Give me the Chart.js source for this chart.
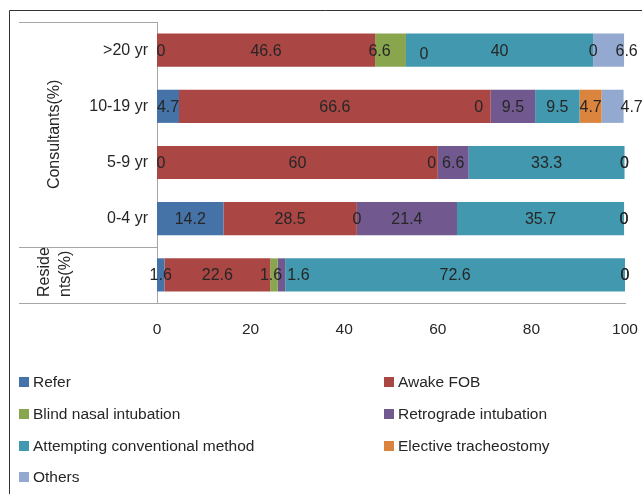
<!DOCTYPE html>
<html>
<head>
<meta charset="utf-8">
<script src="https://cdn.jsdelivr.net/npm/chart.js@4.4.1/dist/chart.umd.min.js"></script>
<style>
  html, body { margin: 0; padding: 0; background: #fff; }
  #wrap { position: relative; width: 642px; height: 494px; }
</style>
</head>
<body>
<div id="wrap"><canvas id="c" width="642" height="494"></canvas></div>
<script>
// rows top to bottom; last row is residents (no tick label)
var groups = ['>20 yr', '10-19 yr', '5-9 yr', '0-4 yr', ''];
var refer = [0, 4.7, 0, 14.2, 1.6];
var awakeFob = [46.6, 66.6, 60, 28.5, 22.6];
var blindNasal = [6.6, 0, 0, 0, 1.6];
var retrograde = [0, 9.5, 6.6, 21.4, 1.6];
var conventional = [40, 9.5, 33.3, 35.7, 72.6];
var tracheostomy = [0, 4.7, 0, 0, 0];
var others = [6.6, 4.7, 0, 0, 0];
var xTicks = [0, 20, 40, 60, 80, 100];

var FONT = '"Liberation Sans", Arial, sans-serif';
var TEXT = '#262626';
var LINE = '#a6a6a6';

// labels that were dragged off the segment centre in the original ("series,row": [dx, dy])
var labelNudge = {
  '0,0': [4, 0], '0,2': [4, 0],
  '2,0': [-11, 0], '2,1': [-12, 0], '2,2': [-6, 0], '2,4': [-3, 0],
  '3,0': [18, 3], '3,4': [17, 0],
  '6,0': [18, 0], '6,1': [19, 0]
};

function ds(label, data, color) {
  return { label: label, data: data, backgroundColor: color, borderWidth: 0,
           categoryPercentage: 1, barPercentage: 0.59 };
}

var datasets = [
  ds('Refer', refer, '#4572a7'),
  ds('Awake FOB', awakeFob, '#aa4643'),
  ds('Blind nasal intubation', blindNasal, '#89a54e'),
  ds('Retrograde intubation', retrograde, '#71588f'),
  ds('Attempting conventional method', conventional, '#4198af'),
  ds('Elective tracheostomy', tracheostomy, '#db843d'),
  ds('Others', others, '#93a9cf')
];

// value labels in the middle of each segment, zeros included
var barLabels = {
  id: 'barLabels',
  afterDatasetsDraw: function (chart) {
    var ctx = chart.ctx;
    ctx.save();
    ctx.font = '16px ' + FONT;
    ctx.fillStyle = TEXT;
    ctx.textAlign = 'center';
    ctx.textBaseline = 'middle';
    chart.data.datasets.forEach(function (set, i) {
      chart.getDatasetMeta(i).data.forEach(function (bar, j) {
        var p = bar.getCenterPoint();
        var n = labelNudge[i + ',' + j] || [0, 0];
        ctx.fillText(String(set.data[j]), p.x + n[0], p.y + 1 + n[1]);
      });
    });
    ctx.restore();
  }
};

// frame, group boxes and rotated group titles
var frame = {
  id: 'frame',
  afterDraw: function (chart) {
    var ctx = chart.ctx, y = chart.scales.y, a = chart.chartArea;
    var top = a.top, mid = y.getPixelForValue(3.5), bot = a.bottom;
    ctx.save();
    ctx.strokeStyle = '#333';
    ctx.lineWidth = 1;
    ctx.beginPath();
    ctx.moveTo(9.5, 494); ctx.lineTo(9.5, 10.5); ctx.lineTo(642, 10.5);
    ctx.stroke();

    ctx.strokeStyle = LINE;
    ctx.beginPath();
    ctx.moveTo(19, top + 0.5); ctx.lineTo(a.left, top + 0.5);
    ctx.moveTo(19, Math.round(mid) + 0.5); ctx.lineTo(a.left, Math.round(mid) + 0.5);
    ctx.moveTo(19, bot + 0.5); ctx.lineTo(a.left, bot + 0.5);
    ctx.stroke();

    ctx.fillStyle = TEXT;
    ctx.font = '16px ' + FONT;
    ctx.textBaseline = 'middle';
    ctx.save();
    ctx.translate(55, (top + mid) / 2);
    ctx.rotate(-Math.PI / 2);
    ctx.textAlign = 'center';
    ctx.fillText('Consultants(%)', 0, 0);
    ctx.restore();
    ctx.save();
    ctx.translate(45, bot - 6);
    ctx.rotate(-Math.PI / 2);
    ctx.textAlign = 'left';
    ctx.fillText('Reside', 0, 0);
    ctx.fillText('nts(%)', 0, 21);
    ctx.restore();
    ctx.restore();
  }
};

// two-column legend under the plot
var legendBox = {
  id: 'legendBox',
  afterDraw: function (chart) {
    var ctx = chart.ctx;
    var colX = [19, 384], rowY = [382, 414, 446, 477];
    ctx.save();
    ctx.font = '15.5px ' + FONT;
    ctx.textBaseline = 'middle';
    ctx.textAlign = 'left';
    chart.data.datasets.forEach(function (set, i) {
      var x = colX[i % 2], yy = rowY[Math.floor(i / 2)];
      ctx.fillStyle = set.backgroundColor;
      ctx.fillRect(x, yy - 5, 10, 10);
      ctx.fillStyle = TEXT;
      ctx.fillText(set.label, x + 14, yy + 1);
    });
    ctx.restore();
  }
};

new Chart(document.getElementById('c'), {
  type: 'bar',
  data: { labels: groups, datasets: datasets },
  options: {
    indexAxis: 'y',
    responsive: false,
    animation: false,
    layout: { padding: { top: 22, right: 17, left: 0, bottom: 0 } },
    plugins: { legend: { display: false }, tooltip: { enabled: false } },
    scales: {
      x: {
        stacked: true, min: 0, max: 100,
        afterBuildTicks: function (s) { s.ticks = xTicks.map(function (v) { return { value: v }; }); },
        afterFit: function (s) { s.height = 191; s.paddingLeft = 0; s.paddingRight = 0; },
        grid: { display: false, drawTicks: false },
        border: { display: true, color: LINE, width: 1 },
        ticks: { padding: 17, color: TEXT, font: { size: 15.5, family: FONT } }
      },
      y: {
        stacked: true,
        afterFit: function (s) { s.width = 157; },
        grid: { display: false, drawTicks: false },
        border: { display: true, color: LINE, width: 1 },
        ticks: { padding: 9, color: TEXT, font: { size: 16, family: FONT } }
      }
    }
  },
  plugins: [barLabels, frame, legendBox]
});
</script>
</body>
</html>
